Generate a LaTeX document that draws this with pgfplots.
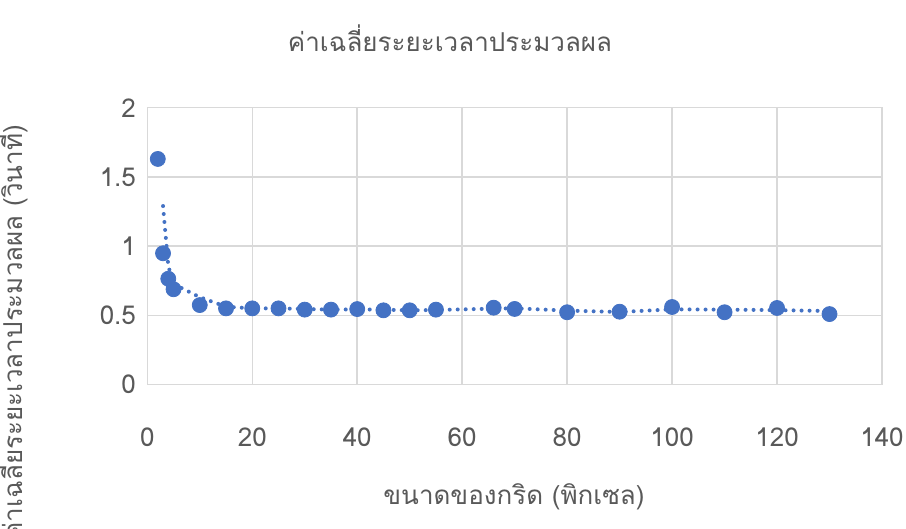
\documentclass[border=0pt]{standalone}
\usepackage{pgfplots}
\pgfplotsset{compat=1.18}
\usepackage{fontspec}
\setmainfont{Loma}[Script=Thai]
\definecolor{mk}{HTML}{4472C4}
\definecolor{txt}{HTML}{595959}
\definecolor{grd}{HTML}{D9D9D9}
\pgfplotstableread{
x y
2 1.63
3 0.949
4 0.765
5 0.689
10 0.575
15 0.551
20 0.551
25 0.551
30 0.542
35 0.542
40 0.546
45 0.537
50 0.537
55 0.542
66 0.556
70 0.547
80 0.523
90 0.527
100 0.561
110 0.523
120 0.554
130 0.510
}\pts
\pgfplotstableread{
x y
3 1.290
4 0.857
5 0.727
10 0.632
15 0.563
20 0.551
25 0.551
30 0.5465
35 0.542
40 0.544
45 0.5415
50 0.537
55 0.5395
66 0.549
70 0.5515
80 0.535
90 0.525
100 0.544
110 0.542
120 0.5385
130 0.532
}\trend
\begin{document}
\begin{tikzpicture}
\path[use as bounding box] (0,0) rectangle (453pt,-264.5pt);
\begin{axis}[
  at={(73.65pt,-192.35pt)}, anchor=south west,
  scale only axis, width=367.35pt, height=138.5pt,
  xmin=0, xmax=140, ymin=0, ymax=2,
  xtick={0,20,...,140}, ytick={0,0.5,1,1.5,2},
  grid=major, major grid style={grd, line width=0.75pt},
  axis line style={grd, line width=0.75pt},
  tick style={draw=none},
  /pgf/number format/assume math mode=true,
  ticklabel style={font=\fontsize{13}{15}\selectfont, text=txt},
  xticklabel style={anchor=center, yshift=-26.5pt},
  yticklabel style={anchor=east, inner sep=0pt, xshift=-5.5pt},
  clip=false,
]
\addplot[mk, line width=2pt, line cap=round, dash pattern=on 0pt off 4pt] table[x=x,y=y] {\trend};
\addplot[only marks, mark=*, mark size=3.75pt, mark options={draw=mk, fill=mk}] table[x=x,y=y] {\pts};
\end{axis}
\node[text=txt, font=\fontsize{13}{15}\selectfont] at (225pt,-19pt) {ค่าเฉลี่ยระยะเวลาประมวลผล};
\node[text=txt, font=\fontsize{13}{15}\selectfont] at (257pt,-248.5pt) {ขนาดของกริด (พิกเซล)};
\node[text=txt, font=\fontsize{13}{15}\selectfont, rotate=90, anchor=east] at (6pt,-59pt) {ค่าเฉลี่ยระยะเวลาประมวลผล (วินาที)};
\end{tikzpicture}
\end{document}
